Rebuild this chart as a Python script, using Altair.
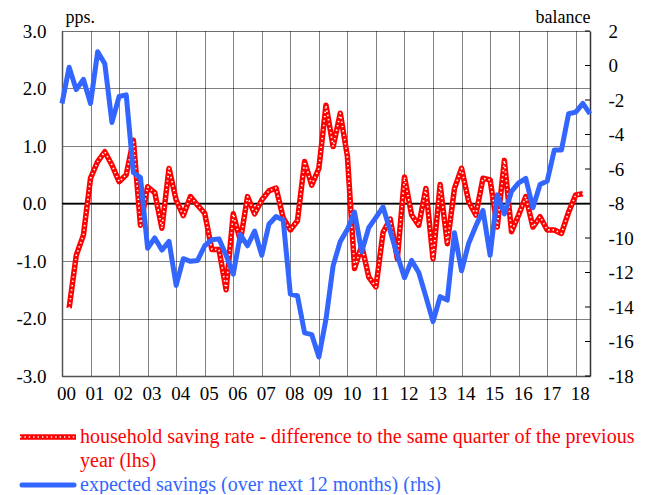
import altair as alt
import pandas as pd

FONT = "Liberation Serif"
RED = "#FF0000"
BLUE = "#3366FF"

# quarterly positions, 2000Q1 ... 2018Q3
years = [2000 + i * 0.25 for i in range(75)]

# household saving rate - y/y difference (lhs, pps.)
red = [None, -1.82, -0.9, -0.55, 0.44, 0.73, 0.90, 0.67, 0.38, 0.50,
       1.10, -0.38, 0.29, 0.19, -0.43, 0.61, 0.06, -0.21, 0.12, -0.03,
       -0.17, -0.80, -0.80, -1.50, -0.18, -0.65, 0.12, -0.18, 0.06, 0.22,
       0.27, -0.25, -0.46, -0.30, 0.73, 0.32, 0.61, 1.71, 0.99, 1.57,
       0.82, -1.13, -0.73, -1.28, -1.45, -0.50, -0.27, -0.96, 0.46, -0.20,
       -0.38, 0.26, -0.96, 0.33, -0.70, 0.26, 0.61, 0.03, -0.20, 0.44,
       0.41, -0.41, 0.75, -0.49, -0.20, 0.12, -0.41, -0.23, -0.46, -0.46,
       -0.52, -0.15, 0.15, 0.17, None]

# expected savings over next 12 months (rhs, balance)
blue = [-2.2, -0.1, -1.4, -0.8, -2.2, 0.8, 0.1, -3.3, -1.8, -1.7,
        -6.2, -6.5, -10.6, -10.0, -10.7, -10.2, -12.75, -11.2, -11.35, -11.3,
        -10.45, -10.1, -10.05, -11.0, -12.1, -9.8, -10.45, -9.6, -11.0, -9.2,
        -8.75, -8.95, -13.25, -13.35, -15.5, -15.6, -16.9, -14.7, -11.6, -10.2,
        -9.5, -8.5, -10.8, -9.4, -8.8, -8.2, -9.6, -11.0, -12.3, -11.3,
        -12.0, -13.4, -14.85, -13.4, -13.6, -9.7, -11.9, -10.3, -9.3, -8.4,
        -11.0, -7.5, -8.6, -7.3, -6.8, -6.55, -8.25, -6.9, -6.7, -4.9,
        -4.9, -2.8, -2.7, -2.2, -2.8]

x_ticks = list(range(2000, 2019))
lhs_ticks = [-3, -2, -1, 0, 1, 2, 3]
rhs_ticks = list(range(-18, 3, 2))
legend_red = ["household saving rate - difference to the same quarter of the previous",
              "year (lhs)"]
legend_blue = "expected savings (over next 12 months) (rhs)"

df = pd.DataFrame({"year": years, "red": red, "blue": blue})
df_red = df.dropna(subset=["red"])

x_axis = alt.Axis(
    values=x_ticks,
    labelExpr="substring(toString(datum.value), 2)",
    grid=True, gridDash=[1, 1], gridColor="black", gridWidth=1,
    ticks=False, domainColor="#555", domainWidth=1.5,
    labelPadding=8, labelOffset=4, labelFont=FONT, labelFontSize=19,
    labelColor="black", labelOverlap=False, labelBound=False, labelFlush=False,
    title=None,
)
x_scale = alt.Scale(domain=[2000, 2018.5], nice=False, zero=False)

lhs_scale = alt.Scale(domain=[-3, 3], nice=False, zero=False)
rhs_scale = alt.Scale(domain=[-18, 2], nice=False, zero=False)

lhs_axis = alt.Axis(
    orient="left", values=lhs_ticks,
    labelExpr="(datum.value < 0 ? '-' : '') + format(abs(datum.value), '.1f')",
    grid=True, gridDash=[1, 1], gridColor="black", gridWidth=1,
    ticks=False, domainColor="#555", domainWidth=1.5, labelOverlap=False,
    labelFlush=False,
    labelPadding=16, labelFont=FONT, labelFontSize=19, labelColor="black",
    title="pps.", titleAngle=0, titleX=3, titleY=-9, titleAlign="left",
    titleBaseline="alphabetic", titleFont=FONT, titleFontSize=18,
    titleFontWeight="normal", titleColor="black",
)
rhs_axis = alt.Axis(
    orient="right", values=rhs_ticks,
    labelExpr="(datum.value < 0 ? '-' : '') + format(abs(datum.value), 'd')",
    grid=False, ticks=False, domainColor="#333", domainWidth=1.5,
    labelOverlap=False, labelFlush=False,
    labelPadding=18, labelAlign="left", labelFont=FONT, labelFontSize=19,
    labelColor="black",
    title="balance", titleAngle=0, titleX=0, titleY=-9, titleAlign="right",
    titleBaseline="alphabetic", titleFont=FONT, titleFontSize=18,
    titleFontWeight="normal", titleColor="black",
)

red_base = alt.Chart(df_red).mark_line(
    color=RED, strokeWidth=5.5, strokeJoin="round"
).encode(
    x=alt.X("year:Q", scale=x_scale, axis=x_axis),
    y=alt.Y("red:Q", scale=lhs_scale, axis=lhs_axis, title="pps."),
)

red_dots = alt.Chart(df_red).mark_line(
    color="white", strokeWidth=1.7, strokeDash=[1.4, 3.0], strokeJoin="round"
).encode(
    x=alt.X("year:Q", scale=x_scale, axis=x_axis),
    y=alt.Y("red:Q", scale=lhs_scale, axis=lhs_axis, title="pps."),
)

zero_rule = alt.Chart(pd.DataFrame({"red": [0]})).mark_rule(
    color="black", strokeWidth=1.3
).encode(y=alt.Y("red:Q", scale=lhs_scale, axis=lhs_axis, title="pps."))

left = alt.layer(zero_rule, red_base, red_dots)

blue_line = alt.Chart(df).mark_line(
    color=BLUE, strokeWidth=5, strokeJoin="round"
).encode(
    x=alt.X("year:Q", scale=x_scale, axis=x_axis),
    y=alt.Y("blue:Q", scale=rhs_scale, axis=rhs_axis, title="balance"),
)

rhs_tick_marks = alt.Chart(pd.DataFrame({"blue": rhs_ticks})).mark_rule(
    color="black", strokeWidth=1
).encode(
    y=alt.Y("blue:Q", scale=rhs_scale, axis=rhs_axis, title="balance"),
    x=alt.value(523), x2=alt.value(528),
)

right = alt.layer(rhs_tick_marks, blue_line)

one = alt.Data(values=[{}])

leg_red_line = alt.Chart(one).mark_rule(color=RED, strokeWidth=5.5).encode(
    x=alt.value(-42), x2=alt.value(14), y=alt.value(406))
leg_red_dots = alt.Chart(one).mark_rule(
    color="white", strokeWidth=1.7, strokeDash=[1.4, 3.0]).encode(
    x=alt.value(-42), x2=alt.value(14), y=alt.value(406))
leg_blue_line = alt.Chart(one).mark_rule(color=BLUE, strokeWidth=5, strokeCap="round").encode(
    x=alt.value(-40), x2=alt.value(12), y=alt.value(454))

def leg_text(txt, y, color):
    return alt.Chart(one).mark_text(
        align="left", baseline="middle", font=FONT, fontSize=20, color=color
    ).encode(x=alt.value(18), y=alt.value(y), text=alt.value(txt))

legend = alt.layer(
    leg_red_line, leg_red_dots, leg_blue_line,
    leg_text(legend_red[0], 406, RED),
    leg_text(legend_red[1], 430, RED),
    leg_text(legend_blue, 454, BLUE),
)

chart = alt.layer(left, right, legend).resolve_scale(y="independent").properties(
    width=528, height=345,
    padding={"left": 54, "top": 23, "right": 48, "bottom": 118},
    autosize=alt.AutoSizeParams(type="none"),
).configure_view(stroke=None).configure(font=FONT)

chart.save("out.html", embed_options={"renderer": "svg", "actions": False})
